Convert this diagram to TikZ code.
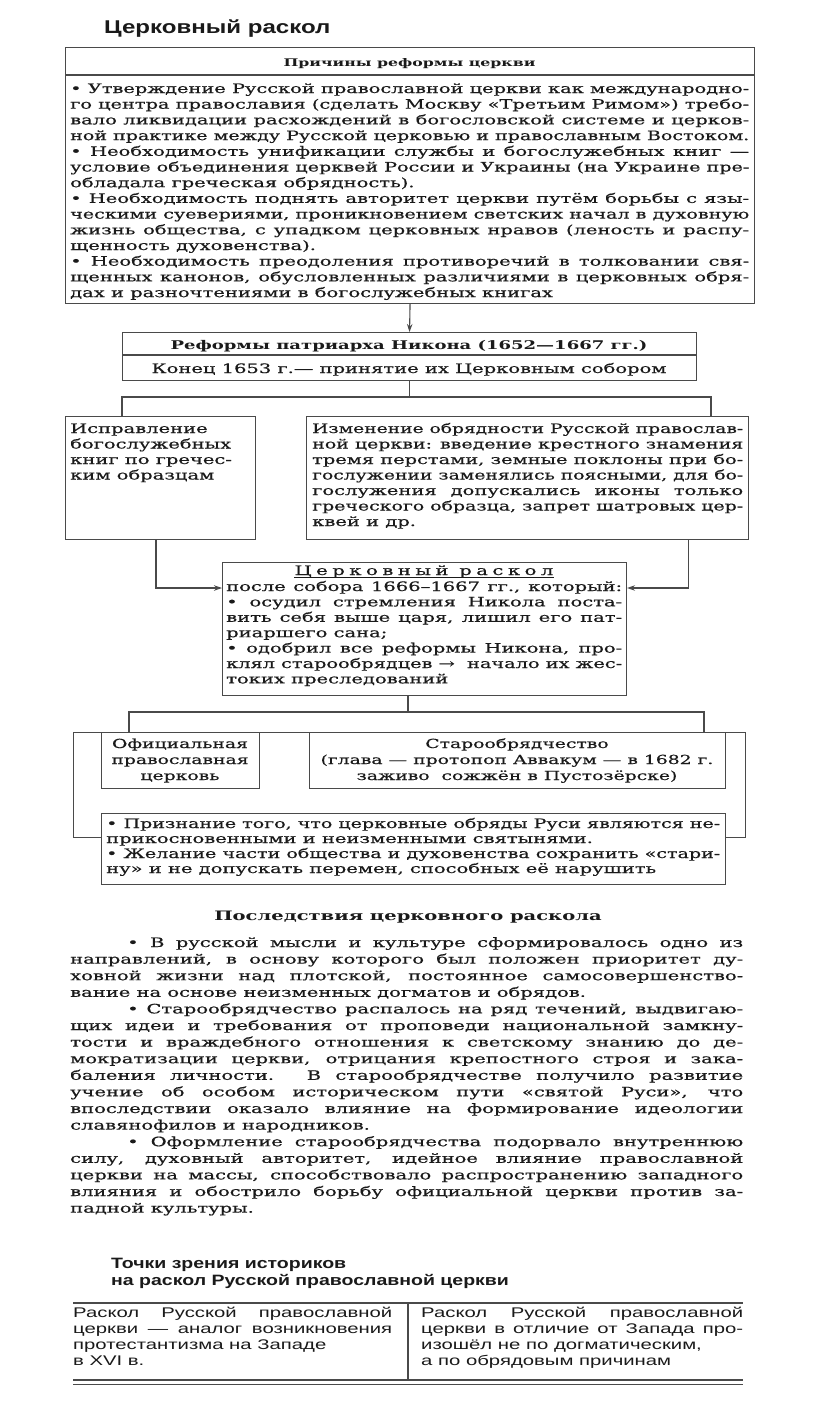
\documentclass[tikz,border=0pt]{standalone}
\usepackage{fontspec}
\usepackage{graphicx}
\setmainfont{DejaVu Serif}[FakeStretch=1.5, UprightFeatures={FakeBold=0.5}]
\newfontfamily\hsans{Liberation Sans}[FakeStretch=1.3]
\newfontfamily\tsans{Liberation Sans}[FakeStretch=1.45]
\usetikzlibrary{arrows.meta}
\definecolor{lncol}{HTML}{4a4a4a}
\definecolor{tx}{HTML}{1a1a1a}
\newdimen\LW
\newcommand\JL[1]{\setbox0\hbox{#1}\ifdim\wd0>\LW\hbox{\resizebox{\LW}{\height}{#1}}\else\hbox to\LW{#1}\fi}
\newcommand\LL[1]{\hbox{#1}}
\newcommand\CL[1]{\hbox to\LW{\hss#1\hss}}
\newcommand\Block[3]{\vtop{\LW=#1\relax\baselineskip=#2\relax\lineskiplimit=-100pt\lineskip=0pt\relax #3}}
\tikzset{
  box/.style={draw=lncol, line width=1.1pt, fill=white, inner sep=0pt, anchor=north west},
  txt/.style={anchor=base west, inner sep=0pt, text=tx, font=\fontsize{13}{15}\selectfont},
  ctxt/.style={anchor=base, inner sep=0pt, text=tx, font=\fontsize{13}{15}\selectfont},
  conn/.style={draw=lncol, line width=1.1pt},
  arr/.style={conn, -{Stealth[length=8pt,width=5.5pt]}},
}
\begin{document}
\begin{tikzpicture}[x=1pt,y=-1pt]
\useasboundingbox (0,0) rectangle (816,1427);
\fill[white] (0,0) rectangle (816,1427);

% title
\node[anchor=base west, inner sep=0pt, text=tx, font=\hsans\bfseries\fontsize{18.5}{20}\selectfont] (title) at (104,33) {Церковный раскол};

% top box
\node[box, minimum width=689pt, minimum height=256pt] (top) at (65,47) {};
\coordinate (tsep) at (0,75);
\draw[conn] (top.west |- tsep) -- (top.east |- tsep);
\node[ctxt, font=\bfseries\fontsize{10.5}{14}\selectfont] (thead) at (409.5,66) {Причины реформы церкви};
\node[txt] (tbody) at (70,93) {\Block{679pt}{15.7pt}{%
\JL{• Утверждение Русской православной церкви как международно-}
\JL{го центра православия (сделать Москву «Третьим Римом») требо-}
\JL{вало ликвидации расхождений в богословской системе и церков-}
\JL{ной практике между Русской церковью и православным Востоком.}
\JL{• Необходимость унификации службы и богослужебных книг —}
\JL{условие объединения церквей России и Украины (на Украине пре-}
\LL{обладала греческая обрядность).}
\JL{• Необходимость поднять авторитет церкви путём борьбы с язы-}
\JL{ческими суевериями, проникновением светских начал в духовную}
\JL{жизнь общества, с упадком церковных нравов (леность и распу-}
\LL{щенность духовенства).}
\JL{• Необходимость преодоления противоречий в толковании свя-}
\JL{щенных канонов, обусловленных различиями в церковных обря-}
\LL{дах и разночтениями в богослужебных книгах}}};

% reforms box
\node[box, minimum width=574pt, minimum height=48pt] (reforms) at (122,332) {};
\coordinate (rsep) at (0,355);
\draw[conn] (reforms.west |- rsep) -- (reforms.east |- rsep);
\node[ctxt, font=\bfseries\fontsize{12}{15}\selectfont] (rtitle) at (409,349) {Реформы патриарха Никона (1652—1667 гг.)};
\node[ctxt] (rsub) at (409,373) {Конец 1653 г.— принятие их Церковным собором};
\draw[arr] (top.south) -- (reforms.north);

% left and right boxes
\node[box, minimum width=190pt, minimum height=123pt] (books) at (65,416) {};
\node[box, minimum width=442pt, minimum height=123pt] (rites) at (306,416) {};
\node[txt] (bookstxt) at (70,433) {\Block{180pt}{15.5pt}{%
\LL{Исправление}
\LL{богослужебных}
\LL{книг по гречес-}
\LL{ким образцам}}};
\node[txt] (ritestxt) at (312,433) {\Block{431pt}{15.5pt}{%
\JL{Изменение обрядности Русской православ-}
\JL{ной церкви: введение крестного знамения}
\JL{тремя перстами, земные поклоны при бо-}
\JL{гослужении заменялись поясными, для бо-}
\JL{гослужения допускались иконы только}
\JL{греческого образца, запрет шатровых цер-}
\LL{квей и др.}}};
\coordinate (jL) at (122,397);
\coordinate (jR) at (711,397);
\draw[conn] (reforms.south) -- (reforms.south |- jL);
\draw[conn] (jL |- books.north) -- (jL) -- (jR) -- (jR |- rites.north);

% schism box
\node[box, minimum width=404pt, minimum height=133pt] (raskol) at (222,562) {};
\node[ctxt] (rasktitle) at (424,575) {{\addfontfeatures{LetterSpace=35}Церковный раскол}};
\draw[tx, line width=0.7pt] ([yshift=-2.2pt]rasktitle.base west) -- ([yshift=-2.2pt]rasktitle.base east);
\node[txt] (rasktxt) at (226,591) {\Block{396pt}{15.4pt}{%
\JL{после собора 1666–1667 гг., который:}
\JL{• осудил стремления Никола поста-}
\JL{вить себя выше царя, лишил его пат-}
\LL{риаршего сана;}
\JL{• одобрил все реформы Никона, про-}
\JL{клял старообрядцев → \ начало их жес-}
\LL{токих преследований}}};
\draw[arr] ([xshift=91pt]books.south west) |- ([yshift=-26pt]raskol.north west);
\draw[arr] ([xshift=-61pt]rites.south east) |- ([yshift=-26pt]raskol.north east);

% lower part
\node[box, fill=none, minimum width=672pt, minimum height=105pt] (frame) at (73,732) {};
\node[box, minimum width=158pt, minimum height=56pt] (official) at (101,732) {};
\node[box, minimum width=416pt, minimum height=56pt] (oldbel) at (309,732) {};
\node[box, minimum width=624pt, minimum height=71pt] (reasons) at (101,813) {};
\node[ctxt, font=\fontsize{12.5}{15}\selectfont] (officialtxt) at (180,748) {\Block{150pt}{16pt}{%
\CL{Официальная}
\CL{православная}
\CL{церковь}}};
\node[ctxt, font=\fontsize{12.5}{15}\selectfont] (oldbeltxt) at (517,748) {\Block{410pt}{16pt}{%
\CL{Старообрядчество}
\CL{(глава — протопоп Аввакум — в 1682 г.}
\CL{заживо \ сожжён в Пустозёрске)}}};
\node[txt] (reasonstxt) at (106,828) {\Block{614pt}{15pt}{%
\JL{• Признание того, что церковные обряды Руси являются не-}
\LL{прикосновенными и неизменными святынями.}
\JL{• Желание части общества и духовенства сохранить «стари-}
\LL{ну» и не допускать перемен, способных её нарушить}}};
\coordinate (jm) at (408,712);
\coordinate (j2L) at (129,712);
\coordinate (j2R) at (704,712);
\draw[conn] (jm |- raskol.south) -- (jm);
\draw[conn] (j2L |- official.north) -- (j2L) -- (j2R) -- (j2R |- oldbel.north);

% consequences
\node[ctxt, font=\bfseries\fontsize{13}{15}\selectfont] (conshead) at (408,920) {Последствия церковного раскола};
\node[txt] (constxt) at (70,947) {\Block{673pt}{16.6pt}{%
\JL{\hskip57pt • В русской мысли и культуре сформировалось одно из}
\JL{направлений, в основу которого был положен приоритет ду-}
\JL{ховной жизни над плотской, постоянное самосовершенство-}
\LL{вание на основе неизменных догматов и обрядов.}
\JL{\hskip57pt • Старообрядчество распалось на ряд течений, выдвигаю-}
\JL{щих идеи и требования от проповеди национальной замкну-}
\JL{тости и враждебного отношения к светскому знанию до де-}
\JL{мократизации церкви, отрицания крепостного строя и зака-}
\JL{баления личности. В старообрядчестве получило развитие}
\JL{учение об особом историческом пути «святой Руси», что}
\JL{впоследствии оказало влияние на формирование идеологии}
\LL{славянофилов и народников.}
\JL{\hskip57pt • Оформление старообрядчества подорвало внутреннюю}
\JL{силу, духовный авторитет, идейное влияние православной}
\JL{церкви на массы, способствовало распространению западного}
\JL{влияния и обострило борьбу официальной церкви против за-}
\LL{падной культуры.}}};

% historians
\node[anchor=base west, inner sep=0pt, text=tx, font=\hsans\bfseries\fontsize{15}{17}\selectfont] (histhead) at (111,1268) {\Block{600pt}{17pt}{%
\LL{Точки зрения историков}
\LL{на раскол Русской православной церкви}}};
\coordinate (tabtop) at (0,1303);
\coordinate (tabbot) at (0,1380);
\coordinate (tabbot2) at (0,1384.5);
\coordinate (tabL) at (73,0);
\coordinate (tabR) at (743,0);
\coordinate (tabM) at (408,0);
\draw[conn, line width=1.3pt] (tabL |- tabtop) -- (tabR |- tabtop);
\draw[conn] (tabL |- tabbot) -- (tabR |- tabbot);
\draw[conn] (tabL |- tabbot2) -- (tabR |- tabbot2);
\draw[conn] (tabM |- tabtop) -- (tabM |- tabbot);
\node[txt, font=\tsans\fontsize{14}{16}\selectfont] (histL) at (73,1317) {\Block{319pt}{16pt}{%
\JL{Раскол Русской православной}
\JL{церкви — аналог возникновения}
\LL{протестантизма на Западе}
\LL{в XVI в.}}};
\node[txt, font=\tsans\fontsize{14}{16}\selectfont] (histR) at (421,1317) {\Block{322pt}{16pt}{%
\JL{Раскол Русской православной}
\JL{церкви в отличие от Запада про-}
\LL{изошёл не по догматическим,}
\LL{а по обрядовым причинам}}};
\end{tikzpicture}
\end{document}
